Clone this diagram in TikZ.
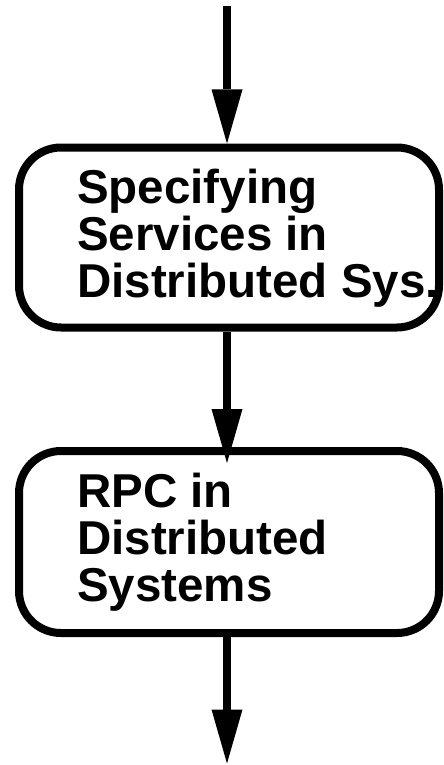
\documentclass[tikz,border=0pt]{standalone}
\usepackage{fontspec}
\setmainfont{Liberation Sans}
\usetikzlibrary{arrows.meta}

\begin{document}
\begin{tikzpicture}[x=1pt,y=-1pt,
  stage/.style={draw=black, line width=8pt, rounded corners=42pt,
    minimum width=420pt, inner sep=0pt},
  stagetext/.style={align=left, inner sep=0pt, anchor=base west,
    font=\fontsize{47.5}{47}\selectfont\bfseries},
  flow/.style={line width=8pt,
    -{Triangle[length=54pt,width=31pt,line width=0pt]}}]
  \useasboundingbox (0,0) rectangle (444,765);

  % entry and exit points of the flow
  \coordinate (src) at (227,6);
  \coordinate (sink) at (227,763.5);

  % stages (text anchored on the baseline of its last line)
  \node[stage, minimum height=180pt] (b1) at (229,237.5) {};
  \node[stagetext] (t1) at (77,297.5) {Specifying\\Services in\\Distributed Sys.};

  \node[stage, minimum height=182pt] (b2) at (229,542) {};
  \node[stagetext] (t2) at (77,601.5) {RPC in\\Distributed\\Systems};

  % connectors
  \draw[flow] (src) -- (src |- b1.north);
  \draw[flow] (src |- b1.south) -- ([yshift=-16pt]src |- b2.north);
  \draw[flow] (src |- b2.south) -- (sink);
\end{tikzpicture}
\end{document}
